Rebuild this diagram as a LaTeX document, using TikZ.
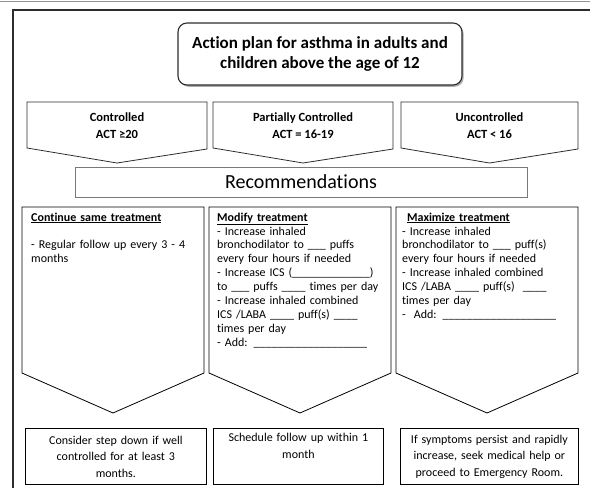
\documentclass[tikz,border=0pt]{standalone}
\usepackage{fontspec}
\setmainfont{Carlito}[Ligatures={NoCommon}]
\usetikzlibrary{shadows}
\definecolor{ruleblue}{RGB}{100,160,215}
\definecolor{framegray}{RGB}{45,45,45}
\definecolor{boxgray}{RGB}{120,120,120}
\tikzset{
  frameline/.style={draw=framegray, line width=2pt},
  titlebox/.style={draw=framegray, line width=1.1pt, fill=white, rounded corners=9pt,
    minimum width=284pt, minimum height=62pt, align=center,
    font=\fontsize{17}{20}\selectfont\bfseries,
    drop shadow={shadow xshift=1.6pt, shadow yshift=-1.8pt, fill=black!55, opacity=0.6}},
  chevron/.style={draw=framegray, line width=0.8pt, fill=white},
  chevtext/.style={align=center, font=\fontsize{12.5}{17}\selectfont\bfseries},
  recbox/.style={draw=boxgray, line width=0.8pt, minimum width=452pt, minimum height=30pt,
    font=\fontsize{20}{22}\selectfont},
  pentagon/.style={draw=black, line width=0.8pt},
  bodytext/.style={anchor=north west, align=left, inner sep=0pt,
    font=\fontsize{12}{13.9}\selectfont},
  endbox/.style={draw=black, line width=0.8pt, minimum height=56pt, align=center,
    anchor=north west, inner sep=2pt, font=\fontsize{12}{16.5}\selectfont},
}
\begin{document}
\begin{tikzpicture}[x=1pt,y=-1pt]
\useasboundingbox (0,0) rectangle (590,488);
\clip (0,0) rectangle (590,488);
\fill[white] (0,0) rectangle (590,488);

% page rule and outer frame
\draw[ruleblue, line width=1.6pt] (0,1.5) -- (590,1.5);
\draw[frameline] (13,496) -- (13,10) -- (598,10);

% title
\node[titlebox] (title) at (320,54) {Action plan for asthma in adults and\\children above the age of 12};

% control levels
\draw[chevron] (27,102) -- (207,102) -- (207,149) -- (117,163) -- (27,148) -- cycle;
\draw[chevron] (213,102) -- (393,102) -- (393,149) -- (303,163) -- (213,148) -- cycle;
\draw[chevron] (401,102) -- (578,102) -- (578,149) -- (489.5,163) -- (401,148) -- cycle;
\node[chevtext] (controlled) at (117,126) {Controlled\\ACT ≥20};
\node[chevtext] (partial) at (303,126) {Partially Controlled\\ACT = 16-19};
\node[chevtext] (uncontrolled) at (489.5,126) {Uncontrolled\\ACT < 16};

% recommendations banner
\node[recbox] (rec) at (301,182) {Recommendations};

% treatment columns
\draw[pentagon] (22,207) -- (204,207) -- (204,373) -- (113,413) -- (22,373) -- cycle;
\draw[pentagon] (209,207) -- (391,207) -- (391,373) -- (300,413) -- (209,373) -- cycle;
\draw[pentagon] (396,207) -- (578,207) -- (578,373) -- (487,413) -- (396,373) -- cycle;

\node[bodytext, text width=172pt] (same) at (31,212.5)
  {\textbf{\underline{Continue same treatment}}\\[13.9pt]
   - Regular follow up every 3 - 4\\months};
\node[bodytext, text width=180pt] (modify) at (217,212.5)
  {\textbf{\underline{Modify treatment}}\\
   - Increase inhaled\\
   bronchodilator to \_\_\_ puffs\\
   every four hours if needed\\
   - Increase ICS (\_\_\_\_\_\_\_\_\_\_\_\_\_)\\
   to \_\_\_ puffs \_\_\_\_ times per day\\
   - Increase inhaled combined\\
   ICS /LABA \_\_\_\_ puff(s) \_\_\_\_\\
   times per day\\
   - Add: \_\_\_\_\_\_\_\_\_\_\_\_\_\_\_\_\_\_\_};
\node[bodytext, text width=180pt] (maximize) at (402,212.5)
  {\hspace*{5pt}\textbf{\underline{Maximize treatment}}\\
   - Increase inhaled\\
   bronchodilator to \_\_\_ puff(s)\\
   every four hours if needed\\
   - Increase inhaled combined\\
   ICS /LABA \_\_\_\_ puff(s)\ \ \_\_\_\_\\
   times per day\\
   -\ \ Add: \_\_\_\_\_\_\_\_\_\_\_\_\_\_\_\_\_\_\_};

% follow-up boxes
\node[endbox, minimum width=181pt, text width=175pt] (stepdown) at (25,428)
  {Consider step down if well\\controlled for at least 3\\months.};
\node[endbox, minimum width=170pt, text width=164pt] (schedule) at (213,428)
  {Schedule follow up within 1\\month\\\strut};
\node[endbox, minimum width=178pt, text width=172pt] (emergency) at (400,428)
  {If symptoms persist and rapidly\\increase, seek medical help or\\proceed to Emergency Room.};
\end{tikzpicture}
\end{document}
